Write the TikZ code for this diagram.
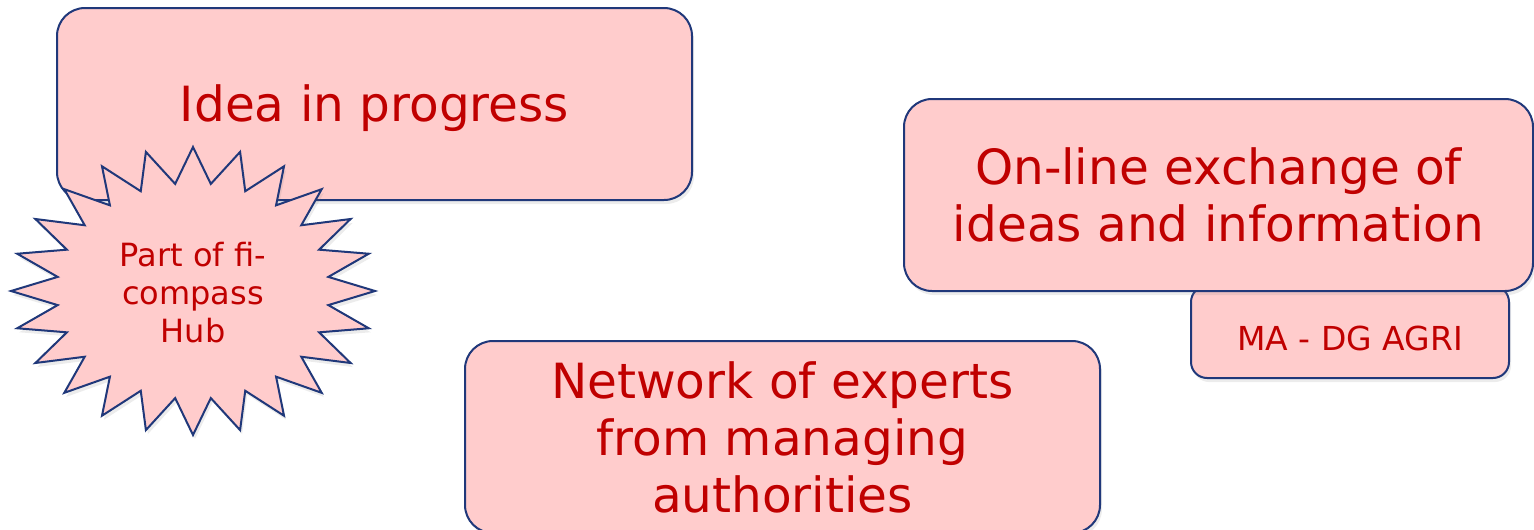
\documentclass[tikz,border=0pt]{standalone}
\usepackage{fontspec}
\setmainfont{DejaVu Sans}
\usetikzlibrary{shadows}
\definecolor{boxfill}{RGB}{255,204,204}
\definecolor{boxline}{RGB}{32,56,122}
\definecolor{boxtext}{RGB}{192,0,0}
\tikzset{
    pink-box/.style = {draw=boxline, fill=boxfill, line width=2pt, rectangle, rounded corners=28pt, text=boxtext, align=center, font=\fontsize{48.5}{57}\selectfont, drop shadow={opacity=0.15, shadow xshift=2pt, shadow yshift=-4pt}},
    small-box/.style = {pink-box, rounded corners=16pt, font=\fontsize{33}{38}\selectfont},
    burst-line/.style = {draw=boxline, fill=boxfill, line width=2pt, line join=miter, drop shadow={opacity=0.15, shadow xshift=2pt, shadow yshift=-4pt}},
    burst-text/.style = {text=boxtext, align=center, font=\fontsize{32}{38}\selectfont},
}

\begin{document}
\begin{tikzpicture}[x=1pt, y=-1pt]
\useasboundingbox (0,0) rectangle (1534,530);

\node[pink-box, minimum width=635pt, minimum height=192pt, text height=46pt, text depth=11pt] (idea) at (374.5,104) {Idea in progress};

% starburst round the hub text
\foreach \i in {0,...,47}{
    \pgfmathsetmacro{\rr}{mod(\i,2)==0 ? 1 : 0.75}
    \coordinate (burst-\i) at ({193+182*\rr*cos(90+7.5*\i)},{291-144*\rr*sin(90+7.5*\i)});
}
\draw[burst-line] (burst-0) \foreach \i in {1,...,47}{ -- (burst-\i)} -- cycle;
\node[burst-text] (hub) at (193,293) {Part of fi-\\compass\\Hub};

\node[small-box, minimum width=318pt, minimum height=92pt, text height=36pt, text depth=0pt] (ma) at (1350,332) {MA - DG AGRI};
\node[pink-box, minimum width=629pt, minimum height=192pt] (online) at (1218.5,195) {On-line exchange of\\ideas and information};

\node[pink-box, minimum width=635pt, minimum height=192pt] (network) at (782.5,437) {Network of experts\\from managing\\authorities};
\end{tikzpicture}
\end{document}
